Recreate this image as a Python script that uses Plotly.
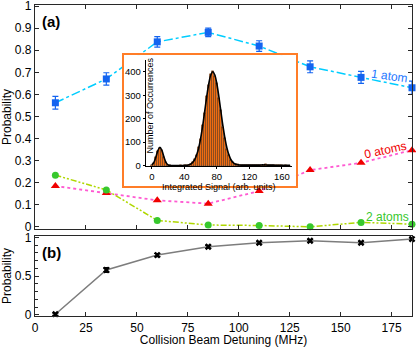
import plotly.graph_objects as go

# collision beam detuning (MHz)
detuning = [10, 35, 60, 85, 110, 135, 160, 185]

# panel (a): probabilities of 1, 0 and 2 atoms
p_one = [0.562, 0.670, 0.838, 0.881, 0.819, 0.725, 0.677, 0.630]
p_one_err = [0.029, 0.028, 0.024, 0.019, 0.024, 0.027, 0.027, 0.030]
p_zero = [0.185, 0.153, 0.120, 0.105, 0.162, 0.257, 0.290, 0.347]
p_two = [0.234, 0.167, 0.029, 0.008, 0.006, 0.000, 0.020, 0.012]

# panel (b)
p_b = [0.010, 0.579, 0.772, 0.879, 0.930, 0.956, 0.930, 0.978]
p_b_err = [0.015, 0.030, 0.020, 0.018, 0.016, 0.014, 0.016, 0.012]

# inset histogram: bins of 2.5 arb. units starting at 0
bin_start = 0
bin_width = 2.5
counts = [3, 12, 35, 62, 77, 66, 38, 14, 4, 1,
          0, 0, 0, 0, 1, 0, 1, 2, 3, 7,
          14, 26, 46, 78, 112, 172, 226, 298, 345, 390,
          405, 382, 350, 288, 236, 165, 118, 70, 46, 24,
          14, 8, 5, 4, 3, 2, 3, 2, 2, 1,
          2, 1, 2, 1, 2, 4, 5, 3, 2, 1,
          1, 2, 1, 1, 1, 0, 1, 0, 0]
fit = [3, 13, 36, 64, 78, 64, 36, 13, 3, 1,
       0, 0, 0, 0, 0, 0, 1, 1, 3, 6,
       13, 24, 44, 73, 115, 168, 230, 293, 348, 386,
       400, 386, 348, 293, 230, 168, 115, 73, 44, 24,
       13, 7, 4, 3, 2, 2, 2, 2, 2, 2,
       2, 2, 2, 2, 3, 3, 3, 2, 2, 2,
       2, 1, 1, 1, 1, 1, 1, 1, 1]

FONT = "Liberation Sans, Arial, sans-serif"
AX = "rgb(40,40,40)"
BLUE = "rgb(20,100,240)"
ORANGE = "rgb(255,125,40)"

fig = go.Figure()

# panel (a)
fig.add_trace(go.Scatter(
    x=detuning, y=p_one, mode="lines+markers", cliponaxis=False,
    line=dict(color="rgb(0,205,255)", dash="dashdot", width=1.5),
    marker=dict(symbol="square", size=7, color=BLUE),
    error_y=dict(type="data", array=p_one_err, color=BLUE, thickness=1.2, width=3),
    xaxis="x", yaxis="y"))
fig.add_trace(go.Scatter(
    x=detuning, y=p_zero, mode="lines+markers", cliponaxis=False,
    line=dict(color="rgb(255,90,210)", dash="dot", width=1.8),
    marker=dict(symbol="triangle-up", size=8, color="rgb(240,0,0)"),
    xaxis="x", yaxis="y"))
fig.add_trace(go.Scatter(
    x=detuning, y=p_two, mode="lines+markers", cliponaxis=False,
    line=dict(color="rgb(175,215,0)", dash="6px,2px,2px,2px,2px,2px", width=1.5),
    marker=dict(symbol="circle", size=7, color="rgb(55,200,45)"),
    xaxis="x", yaxis="y"))

# panel (b)
fig.add_trace(go.Scatter(
    x=detuning, y=p_b, mode="lines+markers", cliponaxis=False,
    line=dict(color="rgb(125,125,125)", width=1.5),
    marker=dict(symbol="x", size=6, color="black"),
    error_y=dict(type="data", array=p_b_err, color="black", thickness=1.2, width=3),
    xaxis="x2", yaxis="y2"))

# white box behind the inset (its own subplot so it hides the lines under it)
fig.add_trace(go.Scatter(x=[0], y=[0], mode="markers", marker=dict(opacity=0),
                         hoverinfo="skip", xaxis="x3", yaxis="y3"))

# inset histogram and fit
fig.add_trace(go.Bar(
    x0=bin_start, dx=bin_width, y=counts,
    marker=dict(color="rgb(240,110,20)", line=dict(color="rgb(40,20,0)", width=0.4)),
    xaxis="x4", yaxis="y4"))
fig.add_trace(go.Scatter(
    x0=bin_start, dx=bin_width, y=fit, mode="lines",
    line=dict(color="black", width=1.6, shape="spline"),
    xaxis="x4", yaxis="y4"))

frame = dict(showline=True, linecolor=AX, linewidth=1.3, ticks="inside",
             ticklen=4, tickcolor=AX, showgrid=False, zeroline=False,
             tickfont=dict(size=12, color="black"))

fig.update_layout(
    width=416, height=347,
    margin=dict(l=35, r=4, t=5, b=31, autoexpand=False),
    paper_bgcolor="white", plot_bgcolor="white",
    showlegend=False, bargap=0,
    font=dict(family=FONT, size=12, color="black"),
    xaxis=dict(frame, domain=[0, 1], range=[0, 185], anchor="y",
               tickvals=[0, 25, 50, 75, 100, 125, 150, 175],
               showticklabels=False, mirror="ticks"),
    yaxis=dict(frame, domain=[0.2797, 1], range=[-0.01, 1.005], anchor="x",
               tickvals=[0, 0.1, 0.2, 0.3, 0.4, 0.5, 0.6, 0.7, 0.8, 0.9, 1],
               ticktext=["0", "0.1", "0.2", "0.3", "0.4", "0.5", "0.6",
                         "0.7", "0.8", "0.9", "1"],
               ticklabeloverflow="allow",
               mirror="ticks",
               title=dict(text="Probability", font=dict(size=12), standoff=6)),
    xaxis2=dict(frame, domain=[0, 1], range=[0, 185], anchor="y2",
                tickvals=[0, 25, 50, 75, 100, 125, 150, 175], mirror=True,
                title=dict(text="Collision Beam Detuning (MHz)",
                           font=dict(size=12), standoff=2)),
    yaxis2=dict(frame, domain=[0, 0.2572], range=[-0.013, 1.017], anchor="x2",
                tickvals=[0, 0.5, 1], ticktext=["0", "0.5", "1"], mirror=True,
                minor=dict(dtick=0.1, tick0=0, ticks="inside", ticklen=2.5,
                           tickcolor=AX),
                title=dict(text="Probability", font=dict(size=12), standoff=6)),
    xaxis3=dict(domain=[0.236, 0.692], range=[0, 1], anchor="y3",
                showline=True, mirror=True, linecolor=ORANGE, linewidth=1.5,
                showticklabels=False, ticks="", showgrid=False, zeroline=False,
                fixedrange=True),
    yaxis3=dict(domain=[0.418, 0.839], range=[0, 1], anchor="x3",
                showline=True, mirror=True, linecolor=ORANGE, linewidth=1.5,
                showticklabels=False, ticks="", showgrid=False, zeroline=False,
                fixedrange=True),
    xaxis4=dict(domain=[0.2936, 0.6809], range=[-7.5, 172], anchor="y4",
                tickvals=[0, 40, 80, 120, 160], showline=True, linecolor="black",
                linewidth=1, ticks="outside", ticklen=2, tickcolor="black",
                showgrid=False, zeroline=False, tickfont=dict(size=9.5),
                title=dict(text="Integrated Signal (arb. units)",
                           font=dict(size=9), standoff=1)),
    yaxis4=dict(domain=[0.482, 0.823], range=[-2, 450], anchor="x4",
                tickvals=[0, 100, 200, 300, 400], showline=True, linecolor="black",
                linewidth=1, ticks="outside", ticklen=2, tickcolor="black",
                showgrid=False, zeroline=False, tickfont=dict(size=9.5)),
    annotations=[
        dict(text="<b>(a)</b>", x=7.9, y=0.928, xref="x", yref="y",
             showarrow=False, font=dict(size=15)),
        dict(text="<b>(b)</b>", x=8.3, y=0.81, xref="x2", yref="y2",
             showarrow=False, font=dict(size=15)),
        dict(text="1 atom", x=174, y=0.683, xref="x", yref="y", textangle=8,
             showarrow=False, font=dict(size=12, color="rgb(30,120,255)")),
        dict(text="0 atoms", x=172, y=0.348, xref="x", yref="y", textangle=-12,
             showarrow=False, font=dict(size=12, color="rgb(240,0,0)")),
        dict(text="2 atoms", x=173, y=0.044, xref="x", yref="y",
             showarrow=False, font=dict(size=12, color="rgb(55,200,45)")),
        dict(text="Number of Occurrences", x=0.305, y=0.677, xref="paper",
             yref="paper", xanchor="center", yanchor="middle", textangle=-90,
             showarrow=False, font=dict(size=9)),
    ],
)

# drop the page's default body margin so the figure sits at the window corner
fig.write_html("out.html", config={"displayModeBar": False},
               post_script="document.body.style.margin = '0';")
